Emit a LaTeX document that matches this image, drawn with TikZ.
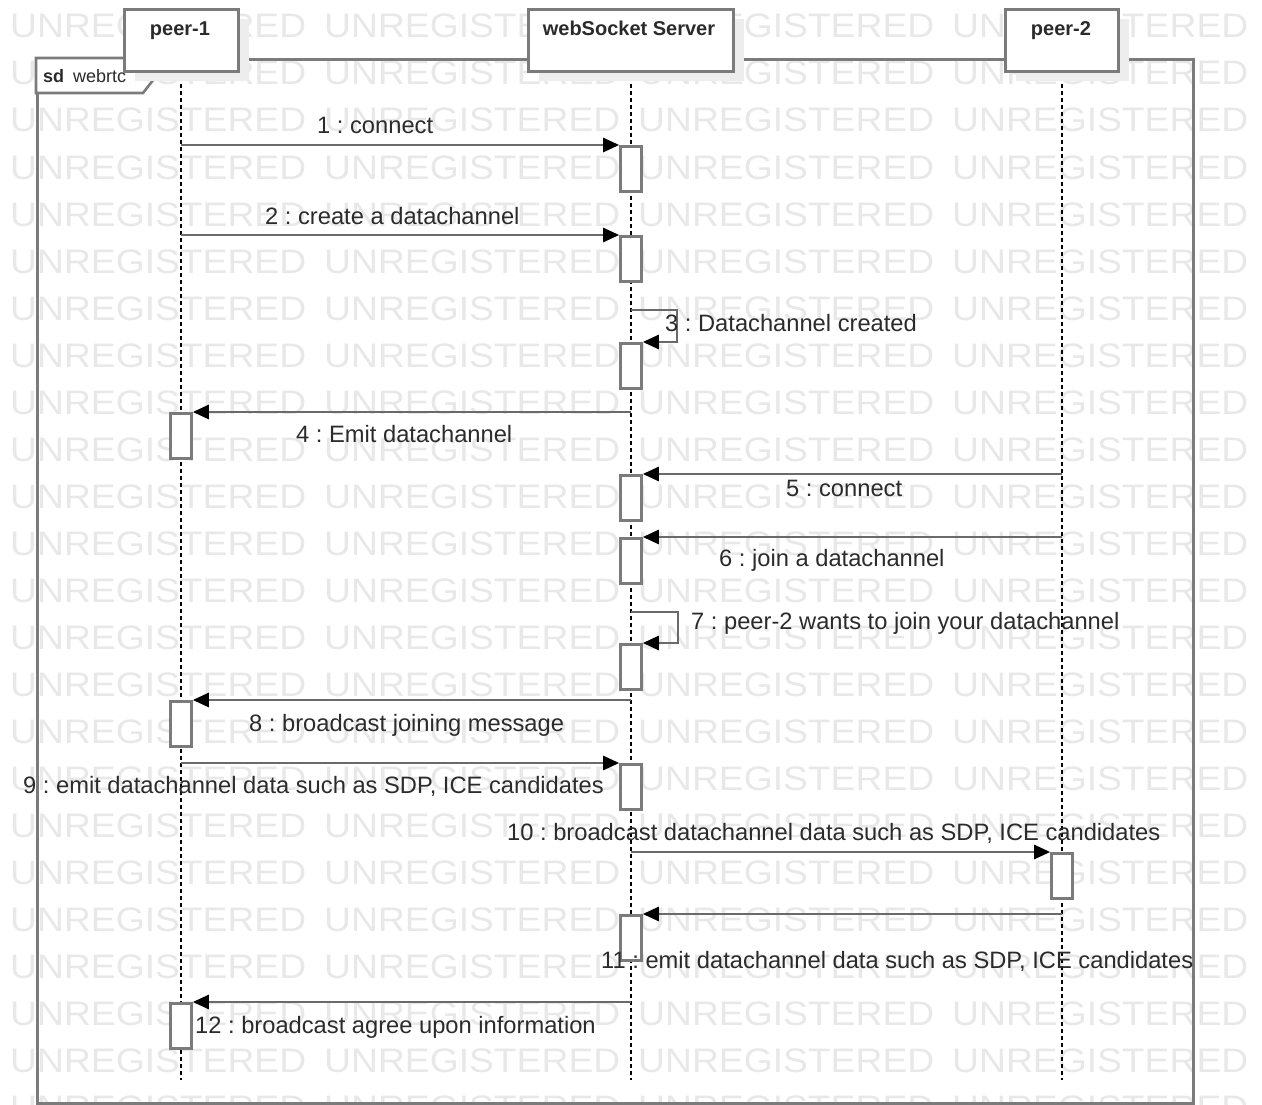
\documentclass[tikz,border=0pt]{standalone}
\usepackage{fontspec}
\setmainfont{Liberation Sans}
\newfontfamily\wmfont[FakeStretch=1.096]{Liberation Sans}
\usetikzlibrary{arrows.meta,shadows}

\definecolor{wmark}{HTML}{E8E8E8}
\definecolor{edge}{HTML}{7B7B7B}
\definecolor{msgc}{HTML}{6A6A6A}
\definecolor{ink}{HTML}{2B2B2B}
\definecolor{shade}{HTML}{EDEDED}

\begin{document}
\frenchspacing
\begin{tikzpicture}[x=1pt,y=-1pt,
  wmtext/.style={anchor=base west,inner sep=0pt,text=wmark,
    font=\wmfont\fontsize{34}{40}\selectfont},
  framebox/.style={draw=edge,line width=2.6pt,anchor=north west,inner sep=0pt},
  tabshape/.style={draw=edge,line width=2.6pt,fill=white},
  headbox/.style={draw=edge,line width=2.6pt,fill=white,anchor=north west,
    inner sep=0pt,drop shadow={shadow xshift=11pt,shadow yshift=-10pt,fill=shade,opacity=1}},
  headtext/.style={anchor=base,inner sep=0pt,text=ink,
    font=\fontsize{20}{24}\selectfont\bfseries},
  lifeline/.style={draw=black,line width=1.6pt,dash pattern=on 4pt off 3pt},
  actbox/.style={draw=edge,line width=2.6pt,fill=white,anchor=north,
    minimum width=21pt,minimum height=45pt,inner sep=0pt},
  msgline/.style={draw=msgc,line width=2.6pt,
    -{Triangle[length=16pt,width=14pt,color=black]}},
  msglabel/.style={anchor=base west,inner sep=0pt,text=ink,
    font=\fontsize{23.7}{28}\selectfont},
]
\useasboundingbox (0,0) rectangle (1262,1105);

% background watermark grid
\begin{scope}
  \clip (0,0) rectangle (1262,1105);
  \foreach \i in {0,...,23} {
    \foreach \k in {0,...,3} {
      \node[wmtext] (wm\i-\k) at ({10+314*\k},{38+47*\i}) {UNREGISTERED};
    }
  }
\end{scope}

% interaction frame with its name tab
\node[framebox,minimum width=1156pt,minimum height=1044pt] (frm) at (36,58) {};
\draw[tabshape] (frm.north west) -- (161,58) -- (161,70) -- (143,93) -- (36,93) -- cycle;
\node[anchor=base west,inner sep=0pt,text=ink,font=\fontsize{18}{22}\selectfont\bfseries]
  (sd) at (43,83) {sd};
\node[anchor=base west,inner sep=0pt,text=ink,font=\fontsize{18}{22}\selectfont]
  (sdname) at (73,83) {webrtc};

% lifeline ends
\coordinate (p1end) at (181,1080);
\coordinate (srvend) at (631,1080);
\coordinate (p2end) at (1062,1080);

% lifelines
\draw[lifeline] (181,70) -- (p1end);
\draw[lifeline] (631,70) -- (srvend);
\draw[lifeline] (1062,70) -- (p2end);

% participants
\node[headbox,minimum width=114pt,minimum height=62pt] (p1) at (123,8) {};
\node[headbox,minimum width=205pt,minimum height=62pt] (srv) at (527,8) {};
\node[headbox,minimum width=113pt,minimum height=62pt] (p2) at (1004,8) {};
\node[headtext] (p1t) at (180,36) {peer-1};
\node[headtext] (srvt) at (629,36) {webSocket Server};
\node[headtext] (p2t) at (1061,36) {peer-2};

% activation bars
\node[actbox] (a1) at (631,145) {};
\node[actbox] (a2) at (631,235) {};
\node[actbox] (a3) at (631,342) {};
\node[actbox] (a4) at (181,412) {};
\node[actbox] (a5) at (631,474) {};
\node[actbox] (a6) at (631,537) {};
\node[actbox] (a7) at (631,643) {};
\node[actbox] (a8) at (181,700) {};
\node[actbox] (a9) at (631,763) {};
\node[actbox] (a10) at (1062,852) {};
\node[actbox] (a11) at (631,914) {};
\node[actbox] (a12) at (181,1002) {};

% self-message corners
\coordinate (l3) at (677,310);
\coordinate (l7) at (678,612);

% messages
\draw[msgline] (p1end |- a1.north) -- (a1.north west);
\draw[msgline] (p1end |- a2.north) -- (a2.north west);
\draw[msgline] (srvend |- l3) -- (l3) |- (a3.north east);
\draw[msgline] (srvend |- a4.north) -- (a4.north east);
\draw[msgline] (p2end |- a5.north) -- (a5.north east);
\draw[msgline] (p2end |- a6.north) -- (a6.north east);
\draw[msgline] (srvend |- l7) -- (l7) |- (a7.north east);
\draw[msgline] (srvend |- a8.north) -- (a8.north east);
\draw[msgline] (p1end |- a9.north) -- (a9.north west);
\draw[msgline] (srvend |- a10.north) -- (a10.north west);
\draw[msgline] (p2end |- a11.north) -- (a11.north east);
\draw[msgline] (srvend |- a12.north) -- (a12.north east);

% message labels
\node[msglabel] (m1) at (317,134) {1 : connect};
\node[msglabel] (m2) at (265,224) {2 : create a datachannel};
\node[msglabel] (m3) at (665,331) {3 : Datachannel created};
\node[msglabel] (m4) at (296,442) {4 : Emit datachannel};
\node[msglabel] (m5) at (786,496) {5 : connect};
\node[msglabel] (m6) at (719,566) {6 : join a datachannel};
\node[msglabel] (m7) at (691,629) {7 : peer-2 wants to join your datachannel};
\node[msglabel] (m8) at (249,731) {8 : broadcast joining message};
\node[msglabel] (m9) at (23,793) {9 : emit datachannel data such as SDP, ICE candidates};
\node[msglabel] (m10) at (507,840) {10 : broadcast datachannel data such as SDP, ICE candidates};
\node[msglabel] (m11) at (601,968) {11 : emit datachannel data such as SDP, ICE candidates};
\node[msglabel] (m12) at (195,1033) {12 : broadcast agree upon information};
\end{tikzpicture}
\end{document}
